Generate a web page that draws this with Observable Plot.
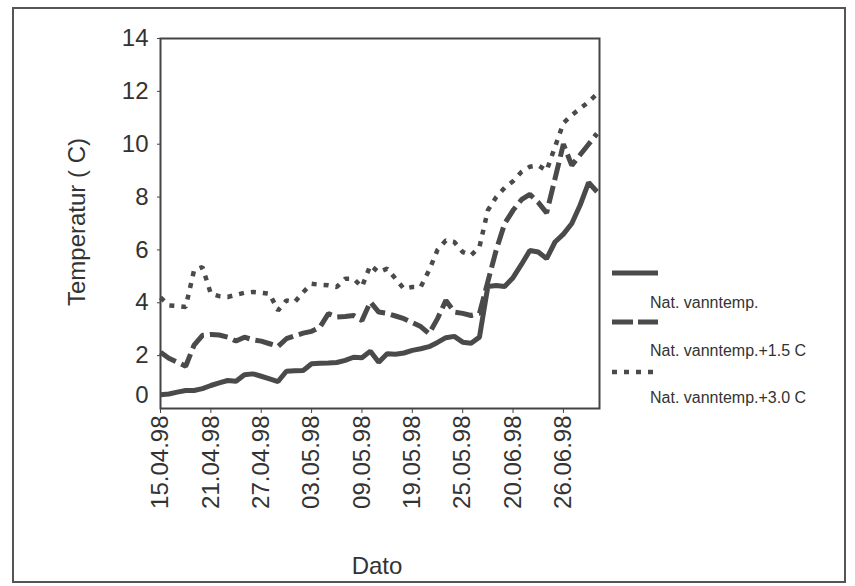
<!DOCTYPE html>
<html><head><meta charset="utf-8">
<script src="https://cdn.jsdelivr.net/npm/d3@7"></script>
<script src="https://cdn.jsdelivr.net/npm/@observablehq/plot@0.6"></script>
<style>
body{margin:0;background:#fff;font-family:"Liberation Sans",Arial,sans-serif;}
#wrap{position:relative;width:855px;height:586px;overflow:hidden;background:#fff;}
#frame{position:absolute;left:12px;top:7px;width:834px;height:576px;border:2px solid #555;box-sizing:border-box;}
#chart{position:absolute;left:0;top:0;}
.lbl{position:absolute;font-size:24px;color:#333;white-space:nowrap;line-height:1;}
#ylab{left:77px;top:222px;transform:translate(-50%,-50%) rotate(-90deg);}
#xlab{left:377px;top:566px;transform:translate(-50%,-50%);}
#legend{position:absolute;left:0;top:0;}
</style></head>
<body>
<div id="wrap">
  <div id="frame"></div>
  <div id="chart"></div>
  <div class="lbl" id="ylab">Temperatur ( C)</div>
  <div class="lbl" id="xlab">Dato</div>
  <svg id="legend" width="855" height="586"></svg>
</div>
<script>
// Tick positions (sample index) and their date labels
const tickIndex = [0, 6, 12, 18, 24, 30, 36, 42, 48];
const tickLabels = ["15.04.98","21.04.98","27.04.98","03.05.98","09.05.98","19.05.98","25.05.98","20.06.98","26.06.98"];
const yTicks = [0, 2, 4, 6, 8, 10, 12, 14];

const seriesNames = ["Nat. vanntemp.", "Nat. vanntemp.+1.5 C", "Nat. vanntemp.+3.0 C"];

const natural = [0.52,0.55,0.62,0.68,0.68,0.75,0.87,0.97,1.06,1.03,
  1.28,1.31,1.22,1.12,1.02,1.41,1.43,1.44,1.69,1.71,
  1.72,1.74,1.82,1.94,1.92,2.17,1.75,2.07,2.05,2.1,
  2.2,2.26,2.34,2.5,2.68,2.73,2.51,2.47,2.7,4.62,
  4.65,4.62,4.95,5.45,5.98,5.92,5.67,6.3,6.6,7.0,
  7.7,8.55,8.2];

const plus15 = [2.13,1.9,1.75,1.6,2.4,2.77,2.8,2.78,2.7,2.55,
  2.7,2.6,2.55,2.45,2.35,2.64,2.75,2.85,2.92,3.08,
  3.59,3.46,3.48,3.52,3.33,4.03,3.65,3.6,3.5,3.4,
  3.25,3.1,2.83,3.4,4.09,3.65,3.6,3.52,3.6,4.8,
  6.0,7.0,7.5,7.9,8.1,7.8,7.4,8.7,10.0,9.2,
  9.6,10.0,10.4];

const plus30 = [4.2,3.9,3.88,3.84,5.23,5.35,4.34,4.25,4.22,4.3,
  4.38,4.41,4.38,4.34,3.71,4.09,4.03,4.4,4.72,4.68,
  4.66,4.6,4.91,4.91,4.6,5.42,5.16,5.29,4.91,4.53,
  4.6,4.6,5.23,6.0,6.36,6.3,5.92,5.8,6.11,7.5,
  8.0,8.35,8.6,8.95,9.15,9.2,9.0,9.9,10.8,11.1,
  11.35,11.6,11.9];

const lineColor = "#4a4a4a";
const styles = [
  {dash: null, width: 5},
  {dash: "18,6", width: 5},
  {dash: "5,7", width: 4.5}
];
const seriesValues = [natural, plus15, plus30];

const lineMarks = seriesValues.map((vals, k) =>
  Plot.line(vals.map((v, i) => ({i, v})), {
    x: "i", y: "v", stroke: lineColor, strokeWidth: styles[k].width,
    strokeDasharray: styles[k].dash, strokeLinejoin: "miter", strokeLinecap: "butt"
  })
);

const chart = Plot.plot({
  width: 855, height: 586,
  marginLeft: 160, marginRight: 256, marginTop: 38, marginBottom: 178,
  style: {fontFamily: '"Liberation Sans", Arial, sans-serif', fontSize: "24px", color: "#333", background: "transparent"},
  x: {domain: [0, 52.3], label: null},
  y: {domain: [0, 14], label: null},
  marks: [
    Plot.frame({stroke: "#444", strokeWidth: 2}),
    Plot.axisY(yTicks.filter(d => d !== 0), {tickSize: 3, tickPadding: 9, label: null, stroke: "#444", fill: "#333"}),
    Plot.axisY([0], {tickSize: 0, tickPadding: 12, dy: -13, label: null, fill: "#333"}),
    Plot.axisX(tickIndex, {
      tickFormat: d => tickLabels[tickIndex.indexOf(d)],
      tickRotate: -90, tickSize: 5, tickPadding: 2, label: null, stroke: "#444", fill: "#333", fontSize: 24
    }),
    ...lineMarks
  ]
});
document.getElementById("chart").appendChild(chart);

// Legend
const legend = d3.select("#legend");
const legY = [273, 322, 372];
const textY = [302, 350, 397];
seriesNames.forEach((name, k) => {
  legend.append("line")
    .attr("x1", 612).attr("x2", 658).attr("y1", legY[k]).attr("y2", legY[k])
    .attr("stroke", lineColor).attr("stroke-width", styles[k].width)
    .attr("stroke-dasharray", k === 1 ? "21,5" : (k === 2 ? "5,7" : null));
  legend.append("text")
    .attr("x", 650).attr("y", textY[k]).attr("dy", "0.35em")
    .attr("font-family", '"Liberation Sans", Arial, sans-serif')
    .attr("font-size", 16).attr("fill", "#333")
    .text(name);
});
</script>
</body></html>
